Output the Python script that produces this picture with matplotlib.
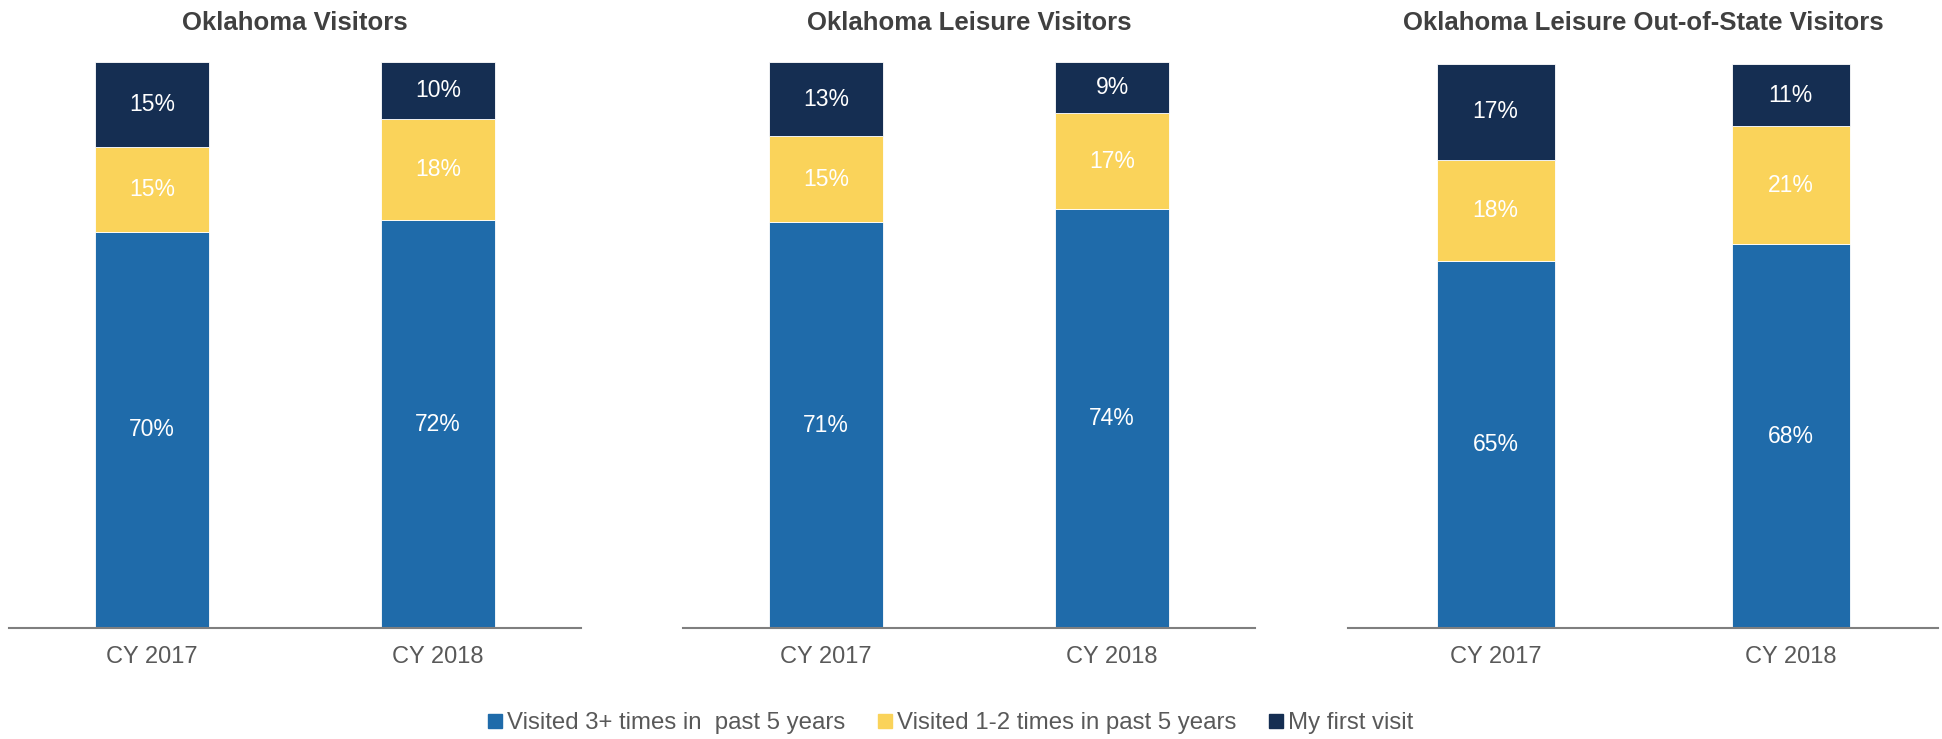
import matplotlib
matplotlib.use("Agg")
import matplotlib.pyplot as plt
from matplotlib.lines import Line2D

plt.rcParams['font.family'] = ['Liberation Sans', 'DejaVu Sans']

# Data
categories = ["CY 2017", "CY 2018"]
titles = ["Oklahoma Visitors", "Oklahoma Leisure Visitors",
          "Oklahoma Leisure Out-of-State Visitors"]
series_names = ["Visited 3+ times in  past 5 years",
                "Visited 1-2 times in past 5 years",
                "My first visit"]

visitors_3plus = [70, 72]
visitors_1to2 = [15, 18]
visitors_first = [15, 10]

leisure_3plus = [71, 74]
leisure_1to2 = [15, 17]
leisure_first = [13, 9]

oos_3plus = [65, 68]
oos_1to2 = [18, 21]
oos_first = [17, 11]

panels = [
    (visitors_3plus, visitors_1to2, visitors_first),
    (leisure_3plus, leisure_1to2, leisure_first),
    (oos_3plus, oos_1to2, oos_first),
]

colors = ["#1F6BAA", "#FAD35A", "#152E52"]
text_gray = "#595959"
title_gray = "#404040"

W, H = 1942, 739
fig = plt.figure(figsize=(W / 100, H / 100), dpi=100)

# axes extents in pixels: (left, right, top)
extents = [(9, 581, 62), (683, 1255, 62), (1348, 1938, 64)]
bottom_px = 628

for (x0, x1, top_px), title, series in zip(extents, titles, panels):
    ax = fig.add_axes([x0 / W, 1 - bottom_px / H, (x1 - x0) / W, (bottom_px - top_px) / H])
    xs = list(range(len(categories)))
    # 100% stacked: each bar is scaled by its own total
    totals = [sum(col) for col in zip(*series)]
    bottoms = [0.0] * len(categories)
    for vals, col in zip(series, colors):
        heights = [100.0 * v / t for v, t in zip(vals, totals)]
        ax.bar(xs, heights, width=0.4, bottom=bottoms, color=col,
               edgecolor="white", linewidth=0.6)
        for x, b, h, v in zip(xs, bottoms, heights, vals):
            ax.text(x, b + h / 2, f"{v}%", ha="center", va="center",
                    color="white", fontsize=16.5)
        bottoms = [b + h for b, h in zip(bottoms, heights)]
    ax.set_xlim(-0.5, len(categories) - 0.5)
    ax.set_ylim(0, 100)
    ax.set_xticks(xs)
    ax.set_xticklabels(categories, fontsize=17, color=text_gray)
    ax.tick_params(axis="x", length=0, pad=13)
    ax.set_yticks([])
    for s in ["top", "right", "left"]:
        ax.spines[s].set_visible(False)
    ax.spines["bottom"].set_color("#7F7F7F")
    ax.spines["bottom"].set_linewidth(1.5)
    fig.text((x0 + x1) / 2 / W, 1 - 23 / H, title, ha="center", va="center",
             fontsize=18.5, fontweight="bold", color=title_gray)

handles = [Line2D([], [], marker="s", linestyle="", color=c, markersize=10)
           for c in colors]
leg = fig.legend(handles, series_names, loc="center", ncol=3,
                 bbox_to_anchor=(950 / W, 1 - 723 / H), frameon=False,
                 fontsize=17.3, handlelength=0.7, handletextpad=0.15,
                 columnspacing=1.3, labelcolor=text_gray)

fig.savefig("out.png", dpi=100, facecolor="white")
